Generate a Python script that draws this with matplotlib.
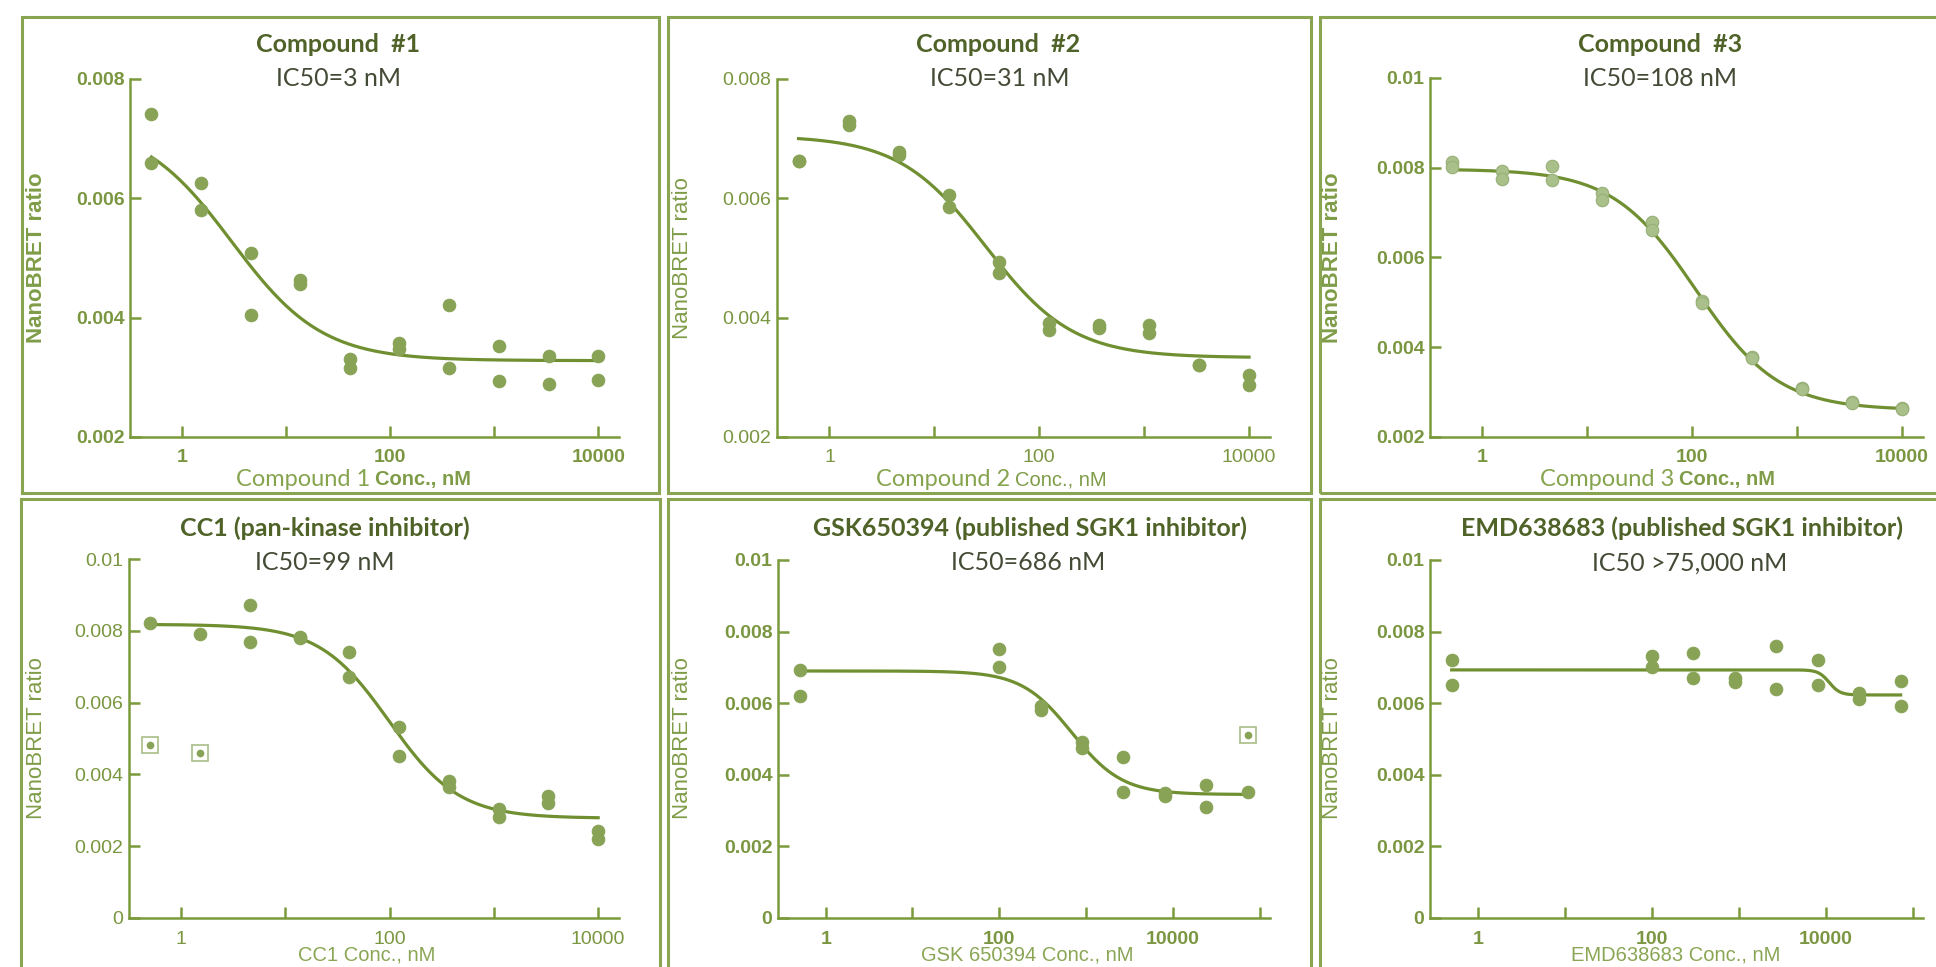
import matplotlib.pyplot as plt
import matplotlib.patches as patches
from matplotlib.ticker import NullLocator
import numpy as np

W, H = 1936, 967

# Konzentrationen (nM), 3-fach Verdünnung
conc_a = [0.508, 1.52, 4.57, 13.7, 41.2, 123, 370, 1111, 3333, 10000]
conc_b = [0.5, 100, 300, 900, 2700, 8100, 24300, 72900]

# NanoBRET ratio, zwei Replikate pro Konzentration
c1_rep1 = [0.00742, 0.00625, 0.00508, 0.00463, 0.00331, 0.00358, 0.00421, 0.00352, 0.00335, 0.00336]
c1_rep2 = [0.00659, 0.00581, 0.00405, 0.00457, 0.00316, 0.00347, 0.00316, 0.00294, 0.00289, 0.00296]

c2_rep1 = [0.00663, 0.00729, 0.00678, 0.00605, 0.00493, 0.00391, 0.00388, 0.00388, 0.00321, 0.00304]
c2_rep2 = [0.00663, 0.00723, 0.00673, 0.00586, 0.00475, 0.00379, 0.00382, 0.00374, 0.00321, 0.00287]

c3_rep1 = [0.00813, 0.00793, 0.00804, 0.00743, 0.00680, 0.00503, 0.00378, 0.00310, 0.00278, 0.00265]
c3_rep2 = [0.00802, 0.00776, 0.00772, 0.00729, 0.00662, 0.00499, 0.00376, 0.00308, 0.00276, 0.00263]

cc1_rep1 = [0.00822, 0.00790, 0.00872, 0.00783, 0.00741, 0.00532, 0.00383, 0.00304, 0.00341, 0.00241]
cc1_rep2 = [np.nan, np.nan, 0.00770, 0.00781, 0.00672, 0.00452, 0.00365, 0.00281, 0.00320, 0.00220]
cc1_excl_x = [0.508, 1.52]
cc1_excl_y = [0.00481, 0.00460]

gsk_rep1 = [0.00693, 0.00752, 0.00592, 0.00493, 0.00451, 0.00349, 0.00372, 0.00351]
gsk_rep2 = [0.00621, 0.00702, 0.00582, 0.00475, 0.00351, 0.00341, 0.00311, np.nan]
gsk_excl_x = [72900]
gsk_excl_y = [0.00512]

emd_rep1 = [0.00722, 0.00732, 0.00741, 0.00669, 0.00761, 0.00720, 0.00629, 0.00662]
emd_rep2 = [0.00651, 0.00702, 0.00671, 0.00660, 0.00641, 0.00652, 0.00613, 0.00592]

# Fit-Parameter (4PL): top, bottom, IC50, hill
fit_c1 = [0.00727, 0.00328, 3, 1.0]
fit_c2 = [0.00705, 0.00333, 31, 1.05]
fit_c3 = [0.00797, 0.00260, 108, 1.1]
fit_cc1 = [0.00818, 0.00278, 99, 1.3]
fit_gsk = [0.00690, 0.00345, 686, 1.5]
fit_emd = [0.00693, 0.00623, 11000, 7.0]

titles = ["Compound  #1", "Compound  #2", "Compound  #3",
          "CC1 (pan-kinase inhibitor)", "GSK650394 (published SGK1 inhibitor)",
          "EMD638683 (published SGK1 inhibitor)"]
subtitles = ["IC50=3 nM", "IC50=31 nM", "IC50=108 nM",
             "IC50=99 nM", "IC50=686 nM", "IC50 >75,000 nM"]
xlabels_top = [("Compound 1", "Conc., nM"), ("Compound 2", "Conc., nM"),
               ("Compound 3", "Conc., nM")]
xlabels_bot = ["CC1 Conc., nM", "GSK 650394 Conc., nM", "EMD638683 Conc., nM"]

box_col = "#8aa552"
axis_col = "#7b9a3c"
tick_col = "#7a9640"
pt_col = "#88a356"
line_col = "#6f8f30"
title_col = "#4f6228"
sub_col = "#434a35"

fig = plt.figure(figsize=(W / 100, H / 100), dpi=100)


def fx(x):
    return x / W


def fy(y):
    return 1 - y / H


# Rahmen der Panels
boxes = [(22, 17, 659, 493), (668, 17, 1311, 493), (1320, 17, 1960, 493),
         (21, 499, 660, 1010), (668, 499, 1311, 1010), (1320, 499, 1960, 1010)]
for x0, y0, x1, y1 in boxes:
    fig.add_artist(patches.Rectangle((fx(x0), fy(y1)), (x1 - x0) / W, (y1 - y0) / H,
                                     fill=False, ec=box_col, lw=2.2,
                                     transform=fig.transFigure))


def logistic(x, p):
    top, bottom, ic50, hill = p
    return bottom + (top - bottom) / (1 + (x / ic50) ** hill)


def panel(rect, conc, reps, fit, xlim, ylim, yticks, ylabels, xticks, bold,
          pcol=pt_col, pedge=pt_col, excl=None):
    x0, y0, x1, y1 = rect
    ax = fig.add_axes([fx(x0), fy(y1), (x1 - x0) / W, (y1 - y0) / H])
    ax.set_xscale("log")
    ax.set_xlim(*xlim)
    ax.set_ylim(*ylim)
    for s in ["top", "right"]:
        ax.spines[s].set_visible(False)
    for s in ["left", "bottom"]:
        ax.spines[s].set_color(axis_col)
        ax.spines[s].set_linewidth(1.8)
    ax.set_xticks(xticks)
    ax.set_xticklabels(["1" if t == 1 else "100" if t == 100 else "10000" if t == 10000 else ""
                        for t in xticks])
    ax.xaxis.set_minor_locator(NullLocator())
    ax.set_yticks(yticks)
    ax.set_yticklabels(ylabels)
    w = "bold" if bold else "normal"
    ax.tick_params(direction="in", length=8, width=1.8, color=axis_col,
                   labelsize=14, labelcolor=tick_col)
    ax.tick_params(axis="y", pad=4)
    ax.tick_params(axis="x", pad=9)
    for lab in ax.get_xticklabels() + ax.get_yticklabels():
        lab.set_fontfamily("Liberation Sans")
        lab.set_fontweight(w)
    ax.patch.set_alpha(0)

    xx = np.logspace(np.log10(conc[0]), np.log10(conc[-1]), 300)
    ax.plot(xx, logistic(xx, fit), color=line_col, lw=2.3, zorder=2)
    for r in reps:
        ax.plot(conc, r, "o", ms=9, color=pcol, mec=pedge, mew=0.8, zorder=3,
                clip_on=False)
    if excl is not None:
        ax.plot(excl[0], excl[1], "s", ms=12, mfc="none", mec="#a9bd86", mew=1.2,
                clip_on=False)
        ax.plot(excl[0], excl[1], "o", ms=4.5, color=pt_col, clip_on=False)
    return ax


lim_a = (10 ** -0.5, 10 ** 4.2)
lim_b = (10 ** -0.55, 10 ** 5.12)
ticks_a = [1, 10, 100, 1000, 10000]
ticks_b = [1, 10, 100, 1000, 10000, 100000]
yt_top = [0.002, 0.004, 0.006, 0.008]
yl_top = ["0.002", "0.004", "0.006", "0.008"]
yt_c3 = [0.002, 0.004, 0.006, 0.008, 0.01]
yl_c3 = ["0.002", "0.004", "0.006", "0.008", "0.01"]
yt_bot = [0, 0.002, 0.004, 0.006, 0.008, 0.01]
yl_bot = ["0", "0.002", "0.004", "0.006", "0.008", "0.01"]

panel((130, 79, 619, 437), conc_a, [c1_rep1, c1_rep2], fit_c1, lim_a, (0.002, 0.008),
      yt_top, yl_top, ticks_a, True)
panel((777, 79, 1270, 437), conc_a, [c2_rep1, c2_rep2], fit_c2, lim_a, (0.002, 0.008),
      yt_top, yl_top, ticks_a, False)
panel((1430, 78, 1923, 437), conc_a, [c3_rep1, c3_rep2], fit_c3, lim_a, (0.002, 0.01),
      yt_c3, yl_c3, ticks_a, True, pcol="#a9c08b", pedge="#98b078")
panel((129, 559, 619, 918), conc_a, [cc1_rep1, cc1_rep2], fit_cc1, lim_a, (0, 0.01),
      yt_bot, yl_bot, ticks_a, False, excl=(cc1_excl_x, cc1_excl_y))
panel((778, 560, 1270, 918), conc_b, [gsk_rep1, gsk_rep2], fit_gsk, lim_b, (0, 0.01),
      yt_bot, yl_bot, ticks_b, True, excl=(gsk_excl_x, gsk_excl_y))
panel((1430, 560, 1923, 918), conc_b, [emd_rep1, emd_rep2], fit_emd, lim_b, (0, 0.01),
      yt_bot, yl_bot, ticks_b, True)

# Titel und IC50
title_pos = [(338, 44), (998, 44), (1660, 44), (325, 528), (1030, 528), (1682, 528)]
sub_pos = [(338, 79), (1000, 79), (1660, 79), (325, 563), (1028, 563), (1690, 563)]
for t, (x, y) in zip(titles, title_pos):
    fig.text(fx(x), fy(y), t, ha="center", va="center", fontsize=18,
             fontweight="bold", family="Lato", color=title_col)
for t, (x, y) in zip(subtitles, sub_pos):
    fig.text(fx(x), fy(y), t, ha="center", va="center", fontsize=18,
             family="Lato", color=sub_col)

# Achsenbeschriftungen
ylab_pos = [(37, 258), (683, 258), (1333, 258), (37, 738), (683, 738), (1333, 738)]
ylab_bold = [True, False, True, False, False, False]
for (x, y), b in zip(ylab_pos, ylab_bold):
    fig.text(fx(x), fy(y), "NanoBRET ratio", ha="center", va="center", rotation=90,
             fontsize=16, family="Liberation Sans", color="#7f9c48",
             fontweight="bold" if b else "normal")

# obere Reihe: "Compound n" (Calibri-artig) + "Conc., nM" (Arial-artig)
split_x = [372, 1012, 1676]
conc_bold = [True, False, True]
for (a, b), sx, cb in zip(xlabels_top, split_x, conc_bold):
    fig.text(fx(sx - 2), fy(480), a, ha="right", va="center", fontsize=17,
             family="Lato", color="#86a34e")
    fig.text(fx(sx + 3), fy(480), b, ha="left", va="center", fontsize=14.5,
             family="Liberation Sans", color="#7f9c48",
             fontweight="bold" if cb else "normal")

xlab_bot_x = [367, 1027, 1676]
for t, x in zip(xlabels_bot, xlab_bot_x):
    fig.text(fx(x), fy(955), t, ha="center", va="center", fontsize=14.5,
             family="Liberation Sans", color="#8aa655")

plt.savefig("out.png", dpi=100)
